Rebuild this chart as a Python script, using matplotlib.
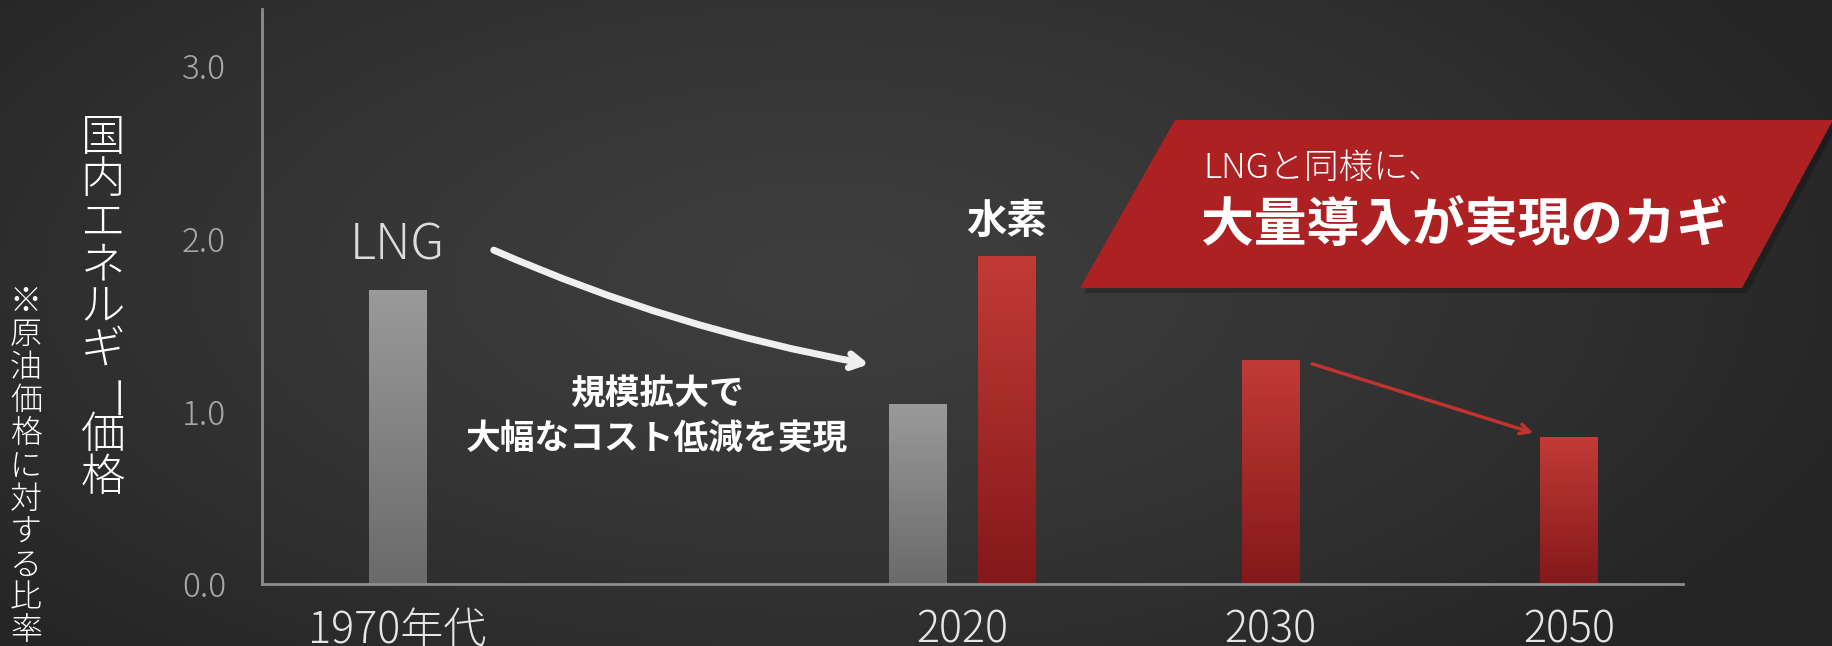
import numpy as np
import matplotlib.pyplot as plt
from matplotlib.colors import LinearSegmentedColormap
from matplotlib.patches import Polygon

plt.rcParams['font.family'] = ['Noto Sans CJK JP', 'DejaVu Sans']

# data
groups = ['1970年代', '2020', '2030', '2050']
group_pos = [0.0, 1.87, 2.89, 3.88]
lng_values = [1.70, 1.04, None, None]
h2_values = [None, 1.90, 1.30, 0.85]
y_ticks = [0.0, 1.0, 2.0, 3.0]

W, H = 1833, 646
fig = plt.figure(figsize=(W / 100, H / 100), dpi=100)

# background radial gradient
bg = fig.add_axes([0, 0, 1, 1], zorder=-10)
yy, xx = np.mgrid[0:H, 0:W]
r = np.sqrt(((xx - 820) / 1100) ** 2 + ((yy - 280) / 520) ** 2)
r = np.clip(r, 0, 1)
shade = 0x3e - (0x3e - 0x25) * r ** 1.3
bg.imshow(np.dstack([shade, shade, shade]) / 255, aspect='auto', extent=[0, W, H, 0])
bg.set_xlim(0, W)
bg.set_ylim(H, 0)
bg.axis('off')

ax = fig.add_axes([262 / W, 62 / H, (1683 - 262) / W, 575 / H])
ax.set_facecolor('none')

gray_cmap = LinearSegmentedColormap.from_list('g', ['#6a6a6a', '#9a9a9a'])
red_cmap = LinearSegmentedColormap.from_list('r', ['#841819', '#c23b36'])
width = 0.19
offset = 0.147


def gradient_bars(xs, vals, cmap):
    bars = ax.bar(xs, vals, width=width, color='none', edgecolor='none')
    grad = np.linspace(0, 1, 256).reshape(-1, 1)
    for b in bars:
        x0, y0 = b.get_x(), b.get_y()
        im = ax.imshow(grad, cmap=cmap, aspect='auto', origin='lower',
                       extent=[x0, x0 + b.get_width(), y0, y0 + b.get_height()],
                       zorder=2)
        im.set_clip_path(b)


lng_x, lng_v, h2_x, h2_v = [], [], [], []
for i in range(len(groups)):
    both = lng_values[i] is not None and h2_values[i] is not None
    if lng_values[i] is not None:
        lng_x.append(group_pos[i] - offset if both else group_pos[i])
        lng_v.append(lng_values[i])
    if h2_values[i] is not None:
        h2_x.append(group_pos[i] + offset if both else group_pos[i])
        h2_v.append(h2_values[i])
gradient_bars(lng_x, lng_v, gray_cmap)
gradient_bars(h2_x, h2_v, red_cmap)
ax.set_xlim(-0.449, 4.257)
ax.set_ylim(0, 3.33)

for s in ['top', 'right']:
    ax.spines[s].set_visible(False)
for s in ['left', 'bottom']:
    ax.spines[s].set_color('#8e8e8e')
    ax.spines[s].set_linewidth(2)

ax.set_yticks(y_ticks, [f'{v:.1f}' for v in y_ticks])
ax.set_xticks(group_pos, groups)
ax.tick_params(axis='y', length=0, pad=26, labelsize=24, labelcolor='#a8a8a8')
ax.tick_params(axis='x', length=0, pad=17, labelsize=31, labelcolor='#e6e6e6')
for t in ax.get_yticklabels() + ax.get_xticklabels():
    t.set_fontweight('light')

# labels over bars
ax.text(lng_x[0], 1.81, 'LNG', ha='center', va='bottom', fontsize=36,
        color='#dcdcdc', fontweight='light')
ax.text(h2_x[0], 1.98, '水素', ha='center', va='bottom', fontsize=29,
        color='white', fontweight='bold')
ax.text(0.86, 0.97, '規模拡大で\n大幅なコスト低減を実現', ha='center', va='center',
        fontsize=25, color='white', fontweight='bold', linespacing=1.4)

# arrows
ax.annotate('', xy=(1.57, 1.27), xytext=(0.31, 1.94),
            arrowprops=dict(arrowstyle='->,head_length=0.9,head_width=0.5',
                            color='#efefef', lw=5,
                            connectionstyle='arc3,rad=0.06'))
ax.annotate('', xy=(3.77, 0.87), xytext=(3.02, 1.28),
            arrowprops=dict(arrowstyle='->,head_length=0.7,head_width=0.35',
                            color='#c0342f', lw=2.5))

# vertical y label (ー turned upright as in vertical writing)
ylabel = '国内エネルギー価格'
for i, ch in enumerate(ylabel):
    is_bar = ch == 'ー'
    fig.text((103 + (18 if is_bar else 0)) / W, 1 - (138 + i * 42.5) / H, ch,
             ha='center', va='center', fontsize=32, color='white',
             fontweight='light', rotation=90 if is_bar else 0)
note = '※原油価格に対する比率'
for i, ch in enumerate(note):
    fig.text(26 / W, 1 - (302 + i * 32.9) / H, ch, ha='center', va='center',
             fontsize=23, color='white', fontweight='light')

# red banner
shadow = Polygon([[1178 / W, 1 - 124 / H], [1838 / W, 1 - 124 / H], [1747 / W, 1 - 293 / H],
                  [1084 / W, 1 - 293 / H]], closed=True, transform=fig.transFigure,
                 facecolor='black', alpha=0.22, edgecolor='none')
fig.add_artist(shadow)
banner = Polygon([[1175 / W, 1 - 120 / H], [1.0, 1 - 120 / H], [1 - 91 / W, 1 - 288 / H],
                  [1080 / W, 1 - 288 / H]], closed=True, transform=fig.transFigure,
                 facecolor='#ad2123', edgecolor='none')
fig.add_artist(banner)
fig.text(1203 / W, 1 - 168 / H, 'LNGと同様に、', ha='left', va='center',
         fontsize=25, color='white', fontweight='light')
fig.text(1201 / W, 1 - 226 / H, '大量導入が実現のカギ', ha='left', va='center',
         fontsize=38, color='white', fontweight='bold')

fig.savefig('out.png', dpi=100)
